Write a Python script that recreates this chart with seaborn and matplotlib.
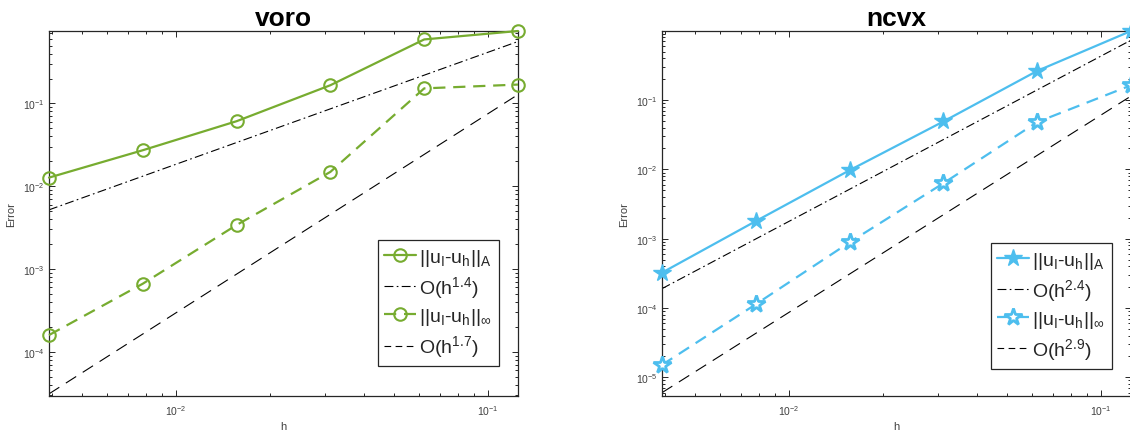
import numpy as np
import pandas as pd
import matplotlib
matplotlib.use("Agg")
import matplotlib.pyplot as plt
import seaborn as sns
from matplotlib.lines import Line2D
from matplotlib.ticker import LogLocator, NullFormatter

# ---------------- data ----------------
h_vals = [0.00390625, 0.0078125, 0.015625, 0.03125, 0.0625, 0.125]
h_ref = [0.00390625, 0.125]

voro_errA = [0.0127, 0.0272, 0.061, 0.166, 0.593, 0.75]
voro_errInf = [1.59e-4, 6.64e-4, 3.4e-3, 0.0149, 0.152, 0.169]
voro_ref1 = [5.18e-3, 0.56]     # O(h^1.4)
voro_ref2 = [3.1e-5, 0.128]     # O(h^1.7)

ncvx_errA = [3.23e-4, 1.79e-3, 9.7e-3, 0.049, 0.263, 0.99]
ncvx_errInf = [1.51e-5, 1.13e-4, 8.85e-4, 6.3e-3, 0.048, 0.163]
ncvx_ref1 = [1.9e-4, 0.73]      # O(h^2.4)
ncvx_ref2 = [6.0e-6, 0.114]     # O(h^2.9)

titles = ["voro", "ncvx"]
rate_labels = [["1.4", "1.7"], ["2.4", "2.9"]]
ylims = [(2.92e-5, 0.75), (5.37e-6, 0.99)]

GREEN = "#77AC30"
BLUE = "#4DBEEE"
AXC = "#262626"

sns.set_style("ticks")
plt.rcParams["font.family"] = ["Liberation Sans", "DejaVu Sans"]
plt.rcParams["mathtext.fontset"] = "custom"
plt.rcParams["mathtext.rm"] = "Liberation Sans"
plt.rcParams["mathtext.it"] = "Liberation Sans:italic"
plt.rcParams["mathtext.bf"] = "Liberation Sans:bold"
plt.rcParams["axes.edgecolor"] = AXC

fig = plt.figure(figsize=(11.30, 4.35), dpi=100)
ax1 = fig.add_axes([49 / 1130, 1 - 397 / 435, 469 / 1130, 365 / 435])
ax2 = fig.add_axes([662 / 1130, 1 - 397 / 435, 469 / 1130, 365 / 435])

panels = [
    (ax1, voro_errA, voro_errInf, voro_ref1, voro_ref2, GREEN, "o"),
    (ax2, ncvx_errA, ncvx_errInf, ncvx_ref1, ncvx_ref2, BLUE, "*"),
]

leg_anchor = [(0.959, 0.082), (0.959, 0.074)]

for i, (ax, eA, eI, r1, r2, col, mk) in enumerate(panels):
    if mk == "o":
        mA = dict(marker="o", markersize=9, markerfacecolor="none",
                  markeredgecolor=col, markeredgewidth=1.5)
        mI = dict(mA)
    else:
        mA = dict(marker="*", markersize=13, markerfacecolor=col,
                  markeredgecolor=col, markeredgewidth=1.0)
        mI = dict(marker="*", markersize=13, markerfacecolor="white",
                  markeredgecolor=col, markeredgewidth=2.0)

    dfA = pd.DataFrame({"h": h_vals, "err": eA})
    dfI = pd.DataFrame({"h": h_vals, "err": eI})
    dr1 = pd.DataFrame({"h": h_ref, "err": r1})
    dr2 = pd.DataFrame({"h": h_ref, "err": r2})

    sns.lineplot(data=dfA, x="h", y="err", ax=ax, color=col, lw=1.6,
                 estimator=None, sort=False, clip_on=False, zorder=3, **mA)
    sns.lineplot(data=dr1, x="h", y="err", ax=ax, color="black", lw=0.8,
                 estimator=None, sort=False)
    sns.lineplot(data=dfI, x="h", y="err", ax=ax, color=col, lw=1.6,
                 estimator=None, sort=False, clip_on=False, zorder=3, **mI)
    sns.lineplot(data=dr2, x="h", y="err", ax=ax, color="black", lw=0.8,
                 estimator=None, sort=False)
    lines = ax.get_lines()
    lines[1].set_dashes([8, 3, 1.5, 3])
    lines[2].set_dashes([5.5, 3.5])
    lines[3].set_dashes([11, 7])

    ax.set_xscale("log")
    ax.set_yscale("log")
    ax.set_xlim(h_vals[0], h_vals[-1])
    ax.set_ylim(*ylims[i])

    ax.xaxis.set_major_locator(LogLocator(base=10, numticks=10))
    ax.xaxis.set_minor_locator(LogLocator(base=10, subs=np.arange(2, 10), numticks=20))
    ax.xaxis.set_minor_formatter(NullFormatter())
    ax.yaxis.set_major_locator(LogLocator(base=10, numticks=15))
    ax.yaxis.set_minor_locator(LogLocator(base=10, subs=np.arange(2, 10), numticks=30))
    ax.yaxis.set_minor_formatter(NullFormatter())

    ax.tick_params(which="both", direction="in", top=True, right=True,
                   colors=AXC, labelcolor="#404040", width=0.7)
    ax.tick_params(which="major", length=4, labelsize=7.5, pad=3)
    ax.tick_params(which="minor", length=2.2)
    ax.tick_params(axis="x", which="major", pad=5)
    for s in ax.spines.values():
        s.set_linewidth(0.9)
        s.set_color(AXC)

    ax.set_xlabel("h", fontsize=8, color="#404040", labelpad=3)
    ax.set_ylabel("Error", fontsize=8, color="#404040", labelpad=5)
    ax.set_title(titles[i], fontsize=19, fontweight="bold", color="black", pad=4)

    hA = Line2D([], [], color=col, lw=1.6, **mA)
    h1 = Line2D([], [], color="black", lw=0.8, dashes=[8, 3, 1.5, 3])
    hI = Line2D([], [], color=col, lw=1.6, dashes=[5.5, 3.5], **mI)
    h2 = Line2D([], [], color="black", lw=0.8, dashes=[6, 4])
    labs = [
        r"||u$_\mathregular{I}$-u$_\mathregular{h}$||$_\mathregular{A}$",
        r"O(h$^\mathregular{" + rate_labels[i][0] + r"}$)",
        r"||u$_\mathregular{I}$-u$_\mathregular{h}$||$_\infty$",
        r"O(h$^\mathregular{" + rate_labels[i][1] + r"}$)",
    ]
    leg = ax.legend([hA, h1, hI, h2], labs, loc="lower right",
                    bbox_to_anchor=leg_anchor[i], fontsize=14, numpoints=1,
                    handlelength=1.6, handletextpad=0.2, labelspacing=0.32,
                    borderpad=0.35, borderaxespad=0, fancybox=False,
                    framealpha=1, edgecolor=AXC)
    leg.get_frame().set_linewidth(0.9)
    leg.set_zorder(5)

fig.savefig("out.png", dpi=100)
